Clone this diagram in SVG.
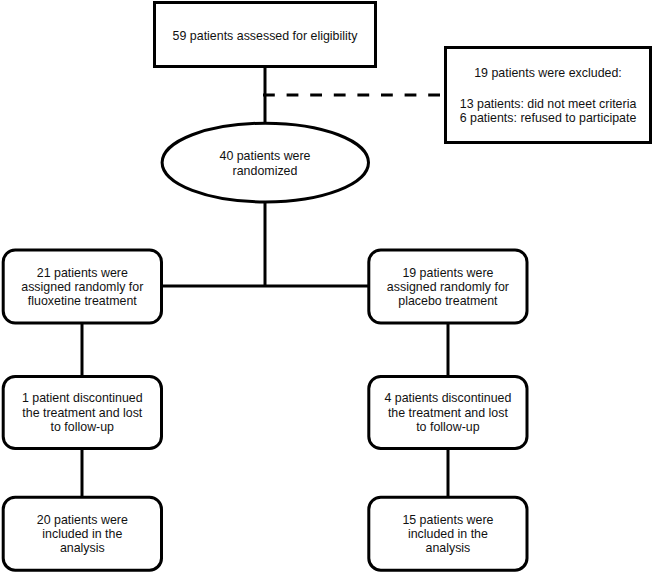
<svg xmlns="http://www.w3.org/2000/svg" width="652" height="573" viewBox="0 0 652 573">
<style>
.box{fill:#fff;stroke:#000;stroke-width:3}
.ln{stroke:#000;stroke-width:3;fill:none}
.dash{stroke:#000;stroke-width:3.2;fill:none;stroke-dasharray:11.8 11.8}
text{font-family:"Liberation Sans",Arial,sans-serif;font-size:13px;fill:#111;text-anchor:middle}
</style>
<rect width="652" height="573" fill="#fff"/>
<g id="connectors">
<line class="ln" x1="265" y1="66" x2="265" y2="124"/>
<line class="dash" x1="263" y1="95" x2="445" y2="95"/>
<line class="ln" x1="265" y1="201" x2="265" y2="286"/>
<line class="ln" x1="161" y1="286" x2="369" y2="286"/>
<line class="ln" x1="82" y1="323" x2="82" y2="377"/>
<line class="ln" x1="82" y1="448" x2="82" y2="498"/>
<line class="ln" x1="448" y1="323" x2="448" y2="377"/>
<line class="ln" x1="448" y1="448" x2="448" y2="498"/>
</g>
<g id="assessed">
<rect class="box" x="154.5" y="2.5" width="221" height="64"/>
<g transform="translate(265,0) scale(0.955,1)"><text x="0" y="40">59 patients assessed for eligibility</text></g>
</g>
<g id="excluded">
<rect class="box" x="445.5" y="47.5" width="205" height="95"/>
<g transform="translate(548,0) scale(0.955,1)">
<text x="0" y="77">19 patients were excluded:</text>
<text x="0" y="107.8">13 patients: did not meet criteria</text>
<text x="0" y="122.2">6 patients: refused to participate</text>
</g>
</g>
<g id="randomized">
<ellipse class="box" cx="265.3" cy="162.6" rx="103.2" ry="39.4"/>
<g transform="translate(265,0) scale(0.955,1)">
<text x="0" y="160">40 patients were</text>
<text x="0" y="175">randomized</text>
</g>
</g>
<g id="fluoxetine">
<rect class="box" x="3.2" y="250" width="158.3" height="73" rx="12"/>
<g transform="translate(82.3,0) scale(0.955,1)">
<text x="0" y="276.6">21 patients were</text>
<text x="0" y="291">assigned randomly for</text>
<text x="0" y="305.4">fluoxetine treatment</text>
</g>
</g>
<g id="placebo">
<rect class="box" x="368.8" y="250" width="158.2" height="73" rx="12"/>
<g transform="translate(447.9,0) scale(0.955,1)">
<text x="0" y="276.6">19 patients were</text>
<text x="0" y="291">assigned randomly for</text>
<text x="0" y="305.4">placebo treatment</text>
</g>
</g>
<g id="discontinued-left">
<rect class="box" x="3.2" y="376.5" width="158.3" height="72" rx="12"/>
<g transform="translate(82.3,0) scale(0.955,1)">
<text x="0" y="402.3">1 patient discontinued</text>
<text x="0" y="416.7">the treatment and lost</text>
<text x="0" y="431.1">to follow-up</text>
</g>
</g>
<g id="discontinued-right">
<rect class="box" x="368.8" y="376.5" width="158.2" height="72" rx="12"/>
<g transform="translate(447.9,0) scale(0.955,1)">
<text x="0" y="402.3">4 patients discontinued</text>
<text x="0" y="416.7">the treatment and lost</text>
<text x="0" y="431.1">to follow-up</text>
</g>
</g>
<g id="analysis-left">
<rect class="box" x="3.2" y="497.2" width="158.3" height="73" rx="12"/>
<g transform="translate(82.3,0) scale(0.955,1)">
<text x="0" y="523.6">20 patients were</text>
<text x="0" y="538">included in the</text>
<text x="0" y="552.4">analysis</text>
</g>
</g>
<g id="analysis-right">
<rect class="box" x="368.8" y="497.2" width="158.2" height="73" rx="12"/>
<g transform="translate(447.9,0) scale(0.955,1)">
<text x="0" y="523.6">15 patients were</text>
<text x="0" y="538">included in the</text>
<text x="0" y="552.4">analysis</text>
</g>
</g>
</svg>
